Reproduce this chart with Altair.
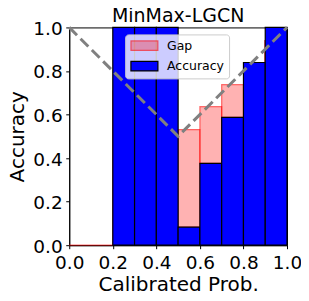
import altair as alt
import pandas as pd

# ---- data ----
title_text = ["MinMax-LGCN"]

bin_lo = [0.2, 0.3, 0.4, 0.5, 0.6, 0.7, 0.8, 0.9]
bin_hi = [0.3, 0.4, 0.5, 0.6, 0.7, 0.8, 0.9, 1.0]
accuracy = [1.0, 1.0, 1.0, 0.083, 0.376, 0.587, 0.839, 1.0]

gap_lo = [0.5, 0.6, 0.7]
gap_hi = [0.6, 0.7, 0.8]
gap_acc = [0.083, 0.376, 0.587]
gap_conf = [0.531, 0.636, 0.737]

# stray gap-edge outlines visible in the reference
edge_x = [0.0, 0.2, 0.897]
edge_x2 = [0.2, 0.2, 0.897]
edge_y = [0.0, 0.0, 0.839]
edge_y2 = [0.0, 0.712, 0.942]

ref_x = [0.0, 0.5, 1.0]
ref_y = [1.0, 0.5, 1.0]

ticks = [0.0, 0.2, 0.4, 0.6, 0.8, 1.0]

acc_df = pd.DataFrame({"lo": bin_lo, "hi": bin_hi, "acc": accuracy, "series": "Accuracy"})
gap_df = pd.DataFrame({"lo": gap_lo, "hi": gap_hi, "acc": gap_acc, "conf": gap_conf, "series": "Gap"})
edge_df = pd.DataFrame({"x": edge_x, "x2": edge_x2, "y": edge_y, "y2": edge_y2})
ref_df = pd.DataFrame({"x": ref_x, "y": ref_y})
title_df = pd.DataFrame({"t": title_text})

W = 218
H = 218

xs = alt.Scale(domain=[0, 1], nice=False, zero=False)
ys = alt.Scale(domain=[0, 1], nice=False, zero=False)

series_dom = ["Gap", "Accuracy"]
fill_scale = alt.Scale(domain=series_dom, range=["rgba(255,0,0,0.3)", "#0000ff"])
stroke_scale = alt.Scale(domain=series_dom, range=["rgba(255,0,0,0.55)", "#000000"])

legend = alt.Legend(
    title=None,
    orient="none",
    legendX=56,
    legendY=7,
    symbolType="M-2.8,-1H2.8V1H-2.8Z",
    symbolSize=93,
    symbolOffset=8,
    symbolStrokeWidth=1.2,
    labelFontSize=12.5,
    labelFont="DejaVu Sans",
    labelColor="black",
    labelOffset=16.4,
    rowPadding=5.5,
    padding=5,
    fillColor="rgba(255,255,255,0.8)",
    strokeColor="#cccccc",
    cornerRadius=3,
)

xaxis = alt.Axis(values=ticks, format=".1f", title="Calibrated Prob.", labelFlush=False)
yaxis = alt.Axis(values=ticks, format=".1f", title="Accuracy", labelFlush=False)

gap = alt.Chart(gap_df).mark_rect(strokeWidth=1.2).encode(
    x=alt.X("lo:Q", scale=xs, axis=xaxis),
    x2="hi:Q",
    y=alt.Y("acc:Q", scale=ys, axis=yaxis),
    y2="conf:Q",
    fill=alt.Fill("series:N", scale=fill_scale, legend=legend),
    stroke=alt.Stroke("series:N", scale=stroke_scale, legend=legend),
)

acc = alt.Chart(acc_df).mark_rect(strokeWidth=1.2).encode(
    x=alt.X("lo:Q", scale=xs),
    x2="hi:Q",
    y=alt.Y("acc:Q", scale=ys),
    y2=alt.datum(0),
    fill=alt.Fill("series:N", scale=fill_scale, legend=legend),
    stroke=alt.Stroke("series:N", scale=stroke_scale, legend=legend),
)

edges = alt.Chart(edge_df).mark_rule(color="rgba(255,0,0,0.55)", strokeWidth=1.2).encode(
    x=alt.X("x:Q", scale=xs), x2="x2:Q", y=alt.Y("y:Q", scale=ys), y2="y2:Q"
)

ref = alt.Chart(ref_df).mark_line(color="#808080", strokeWidth=3, strokeDash=[11, 5]).encode(
    x=alt.X("x:Q", scale=xs), y=alt.Y("y:Q", scale=ys)
)

# chart title drawn as a text mark centred above the plot area
title = alt.Chart(title_df).mark_text(
    font="DejaVu Sans", fontSize=19, color="black", align="center", baseline="alphabetic"
).encode(
    text="t:N", x=alt.value(W / 2), y=alt.value(-5.5)
)

chart = alt.layer(edges, gap, acc, ref, title).properties(
    width=W,
    height=H,
    autosize=alt.AutoSizeParams(type="none"),
    padding={"left": 61.3, "top": 19.3, "right": 14, "bottom": 50},
).configure_axis(
    labelFont="DejaVu Sans",
    labelFontSize=18.5,
    labelColor="black",
    titleFont="DejaVu Sans",
    titleFontSize=20,
    titleFontWeight="normal",
    titleColor="black",
    domainColor="black",
    domainWidth=1,
    tickColor="black",
    tickWidth=1,
    tickSize=3.5,
    grid=False,
).configure_axisY(
    labelPadding=3.5,
    titlePadding=5.4,
    labelOffset=1,
).configure_axisX(
    labelPadding=5,
    titlePadding=2.5,
).configure_view(
    stroke="black", strokeWidth=1
)

chart.save("out.html", embed_options={"renderer": "svg", "actions": False})
